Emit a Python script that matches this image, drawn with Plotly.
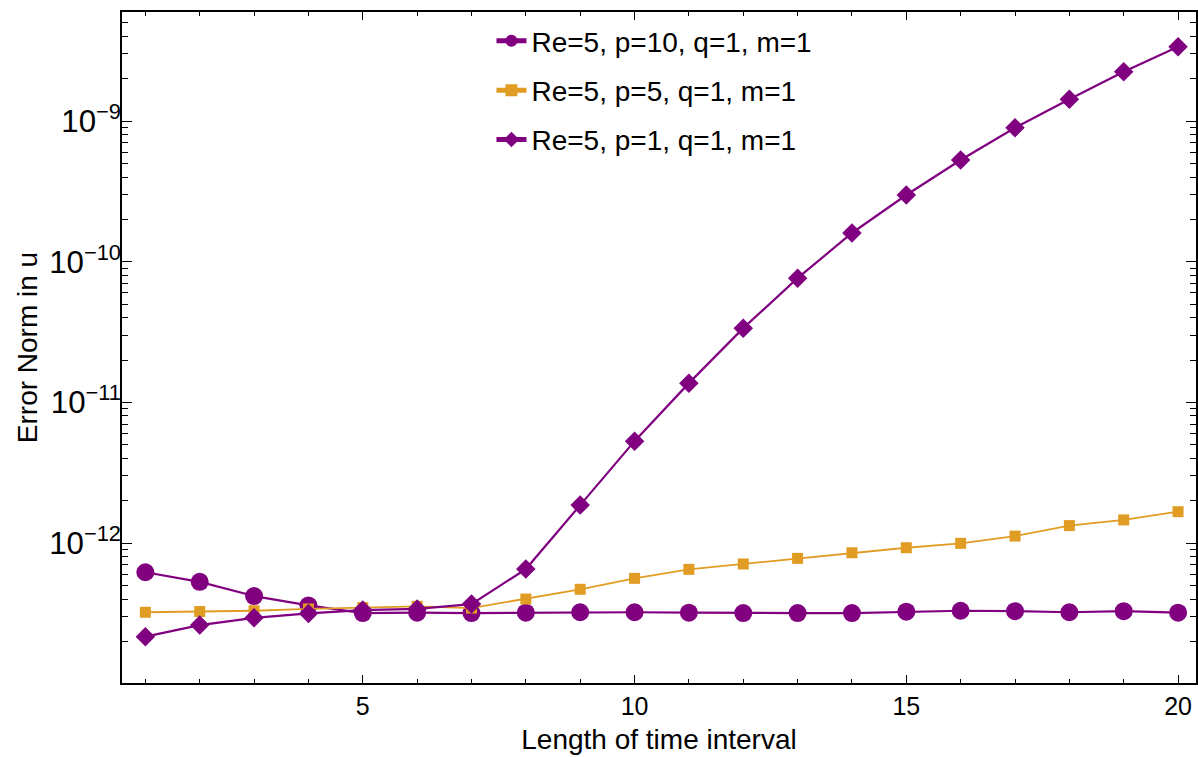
import plotly.graph_objects as go

x_vals = list(range(1, 21))

p10_vals = [6.2e-13, 5.3e-13, 4.2e-13, 3.6e-13, 3.18e-13, 3.2e-13, 3.18e-13, 3.2e-13, 3.22e-13, 3.22e-13,
            3.2e-13, 3.18e-13, 3.18e-13, 3.18e-13, 3.25e-13, 3.3e-13, 3.28e-13, 3.22e-13, 3.28e-13, 3.2e-13]
p5_vals = [3.22e-13, 3.26e-13, 3.3e-13, 3.4e-13, 3.48e-13, 3.55e-13, 3.45e-13, 4.0e-13, 4.69e-13, 5.61e-13,
           6.5e-13, 7.1e-13, 7.78e-13, 8.53e-13, 9.26e-13, 9.95e-13, 1.12e-12, 1.33e-12, 1.46e-12, 1.67e-12]
p1_vals = [2.16e-13, 2.61e-13, 2.94e-13, 3.16e-13, 3.34e-13, 3.4e-13, 3.68e-13, 6.53e-13, 1.86e-12, 5.3e-12,
           1.37e-11, 3.37e-11, 7.64e-11, 1.6e-10, 2.98e-10, 5.28e-10, 8.96e-10, 1.43e-9, 2.24e-9, 3.37e-9]

names = ["Re=5, p=10, q=1, m=1", "Re=5, p=5, q=1, m=1", "Re=5, p=1, q=1, m=1"]

PURPLE = "#800080"
ORANGE = "#E19C24"

fig = go.Figure()
fig.add_trace(go.Scatter(x=x_vals, y=p10_vals, name=names[0], mode="lines+markers", legendgroup="a",
                         line=dict(color=PURPLE, width=2.2),
                         marker=dict(symbol="circle", size=18, color=PURPLE)))
fig.add_trace(go.Scatter(x=x_vals, y=p5_vals, name=names[1], mode="lines+markers", legendgroup="b",
                         line=dict(color=ORANGE, width=1.8),
                         marker=dict(symbol="square", size=11, color=ORANGE)))
fig.add_trace(go.Scatter(x=x_vals, y=p1_vals, name=names[2], mode="lines+markers", legendgroup="c",
                         line=dict(color=PURPLE, width=2.2),
                         marker=dict(symbol="diamond", size=15, color=PURPLE)))

FONT = "Liberation Sans, Arial, sans-serif"

fig.update_layout(
    width=1198, height=757,
    margin=dict(l=122, r=0, t=12, b=74),
    paper_bgcolor="white", plot_bgcolor="white",
    font=dict(family=FONT, size=25, color="black"),
    showlegend=True,
    legend=dict(x=0.344, y=0.994, xanchor="left", yanchor="top",
                font=dict(family=FONT, size=28, color="black"),
                bgcolor="rgba(0,0,0,0)", itemsizing="constant", tracegroupgap=10),
    xaxis=dict(range=[0.57, 20.33], showgrid=False, zeroline=False,
               showline=True, linecolor="black", linewidth=2, mirror="allticks",
               tickmode="array", tickvals=[5, 10, 15, 20],
               ticks="inside", ticklen=8, tickwidth=1.2, tickcolor="black",
               minor=dict(dtick=1, tick0=0, ticks="inside", ticklen=4, tickwidth=1, tickcolor="black"),
               tickfont=dict(family=FONT, size=25),
               title=dict(text="Length of time interval", font=dict(family=FONT, size=28), standoff=10)),
    yaxis=dict(type="log", range=[-12.995, -8.225], showgrid=False, zeroline=False,
               showline=True, linecolor="black", linewidth=2, mirror="allticks",
               dtick=1, exponentformat="power",
               ticks="inside", ticklen=10, tickwidth=1.2, tickcolor="black",
               ticklabelstandoff=-6,
               minor=dict(dtick="D1", ticks="inside", ticklen=6, tickwidth=1, tickcolor="black"),
               tickfont=dict(family=FONT, size=25),
               title=dict(text="Error Norm in u", font=dict(family=FONT, size=28), standoff=3)),
)

fig.write_html("out.html")
